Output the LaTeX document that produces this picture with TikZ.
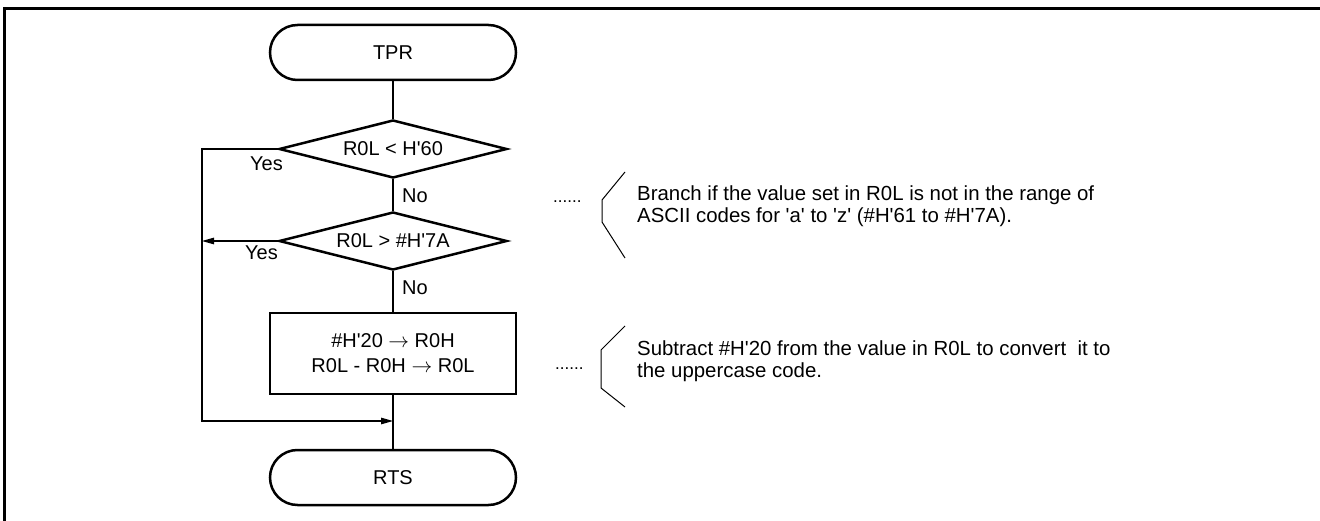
\documentclass[tikz,border=0pt]{standalone}
\usepackage{fontspec}
\setmainfont{Liberation Sans}
\usetikzlibrary{shapes.geometric,arrows.meta}
\newcommand\q{\textquotesingle}
\newcommand\ra{\ensuremath{\rightarrow}}
\begin{document}
\begin{tikzpicture}[x=1pt,y=-1pt,
  font=\fontsize{20}{24}\selectfont,
  term/.style={draw, line width=2.5pt, rounded corners=27.5pt, minimum width=246pt, minimum height=55pt, inner sep=0pt},
  decision/.style={draw, diamond, shape aspect=3.9, line width=2.5pt, minimum width=228pt, minimum height=58pt, inner sep=0pt},
  proc/.style={draw, rectangle, line width=2.5pt, minimum width=246pt, minimum height=81pt, inner sep=0pt, align=center, font=\fontsize{20}{25}\selectfont},
  conn/.style={line width=1.2pt},
  arr/.style={conn, -{Triangle[length=12pt,width=6.5pt]}},
  lbl/.style={inner sep=0pt, anchor=base west},
  note/.style={inner sep=0pt, anchor=north west, align=left, font=\fontsize{20.4}{22}\selectfont},
  dots/.style={inner sep=0pt, anchor=base west, font=\fontsize{17}{20}\selectfont},
  brace/.style={line width=1pt}]
\useasboundingbox (0,0) rectangle (1320,521);
% frame
\draw[line width=3pt] (4.2,521) -- (4.2,9) -- (1320,9);
% flowchart nodes
\node[term] (tpr) at (393,52.5) {TPR};
\node[decision] (d1) at (393,149) {R0L < H\q60};
\node[decision] (d2) at (393,241) {R0L > \#H\q7A};
\node[proc] (p) at (393,353.5) {\#H\q20 \ra{} R0H\\R0L - R0H \ra{} R0L};
\node[term] (rts) at (393,477.5) {RTS};
\coordinate (lx) at (202,0);
\coordinate (j) at (393,421);
% connectors
\draw[conn] (tpr) -- (d1);
\draw[conn] (d1) -- (d2);
\draw[conn] (d2) -- (p);
\draw[conn] (p) -- (rts);
\draw[arr] (d1.west) -- (d1.west -| lx) |- (j);
\draw[arr] (d2.west) -- (d2.west -| lx);
% labels
\node[lbl] (y1) at (250,171) {Yes};
\node[lbl] (y2) at (245,260) {Yes};
\node[lbl] (n1) at (402,203) {No};
\node[lbl] (n2) at (402,295) {No};
% comments
\node[dots] (dt1) at (553,203) {......};
\draw[brace] (625,172) -- (602,200) -- (602,222) -- (625,258);
\node[note] (c1) at (637,185.2) {Branch if the value set in R0L is not in the range of\\ASCII codes for \q a\q{} to \q z\q{} (\#H\q61 to \#H\q7A).};
\node[dots] (dt2) at (555,369) {......};
\draw[brace] (625,326) -- (601,350) -- (601,388) -- (625,407);
\node[note] (c2) at (637,340.7) {Subtract \#H\q20 from the value in R0L to convert\ \ it to\\the uppercase code.};
\end{tikzpicture}
\end{document}
